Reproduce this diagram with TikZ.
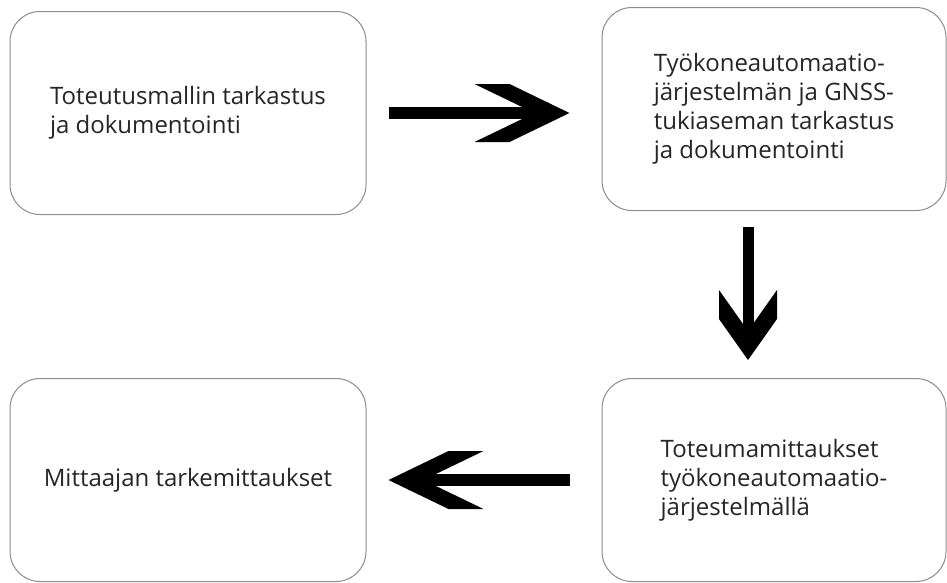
\documentclass[tikz,border=0pt]{standalone}
\usepackage{fontspec}
\setmainfont{Open Sans}
\usetikzlibrary{arrows.meta}

% thick chevron head, inset = thickness of the barbs along the shaft
\pgfdeclarearrow{
  name = Chevron,
  parameters = {\the\pgfarrowlength,\the\pgfarrowwidth,\the\pgfarrowinset},
  setup code = {
    \pgfarrowssettipend{0pt}
    \pgfarrowssetbackend{-\pgfarrowlength}
    \pgfarrowssetlineend{-.5\pgfarrowinset}
    \pgfarrowssavethe\pgfarrowlength
    \pgfarrowssavethe\pgfarrowwidth
    \pgfarrowssavethe\pgfarrowinset
  },
  drawing code = {
    \pgfpathmoveto{\pgfpoint{0pt}{0pt}}
    \pgfpathlineto{\pgfpoint{\pgfarrowinset-\pgfarrowlength}{.5\pgfarrowwidth}}
    \pgfpathlineto{\pgfpoint{-\pgfarrowlength}{.5\pgfarrowwidth}}
    \pgfpathlineto{\pgfpoint{-\pgfarrowinset}{0pt}}
    \pgfpathlineto{\pgfpoint{-\pgfarrowlength}{-.5\pgfarrowwidth}}
    \pgfpathlineto{\pgfpoint{\pgfarrowinset-\pgfarrowlength}{-.5\pgfarrowwidth}}
    \pgfpathclose
    \pgfusepathqfill
  },
  defaults = {length=95pt, width=58pt, inset=35pt}
}

\begin{document}
\begin{tikzpicture}[x=1pt, y=-1pt,
  stage/.style={draw=black!45, line width=1pt, rounded corners=30pt, fill=white,
    minimum width=356pt, minimum height=203pt, align=left, text=black!85,
    font=\fontsize{24}{29}\selectfont},
  flow/.style={line width=12pt, -{Chevron[length=95pt, width=58pt, inset=35pt]}},
  drop/.style={line width=11pt, -{Chevron[length=70pt, width=58pt, inset=29pt]}}]
  \useasboundingbox (0,0) rectangle (947,582);

  % ── Stages ──
  \node[stage] (malli) at (188,113)
    {Toteutusmallin tarkastus\\ja dokumentointi};
  \node[stage, minimum width=344pt] (kone) at (774,109)
    {Työkoneautomaatio-\\järjestelmän ja GNSS-\\tukiaseman tarkastus\\ja dokumentointi};
  \node[stage, minimum width=344pt] (toteuma) at (774,480)
    {Toteumamittaukset\\työkoneautomaatio-\\järjestelmällä};
  \node[stage] (tarke) at (188,480)
    {Mittaajan tarkemittaukset};

  % ── Flow arrows ──
  \draw[flow, shorten <=22pt, shorten >=32pt] (malli.east) -- (kone.west |- malli.east);
  \draw[drop, shorten <=16pt, shorten >=18pt]
    ([xshift=-26pt]kone.south) -- ([xshift=-26pt]toteuma.north);
  \draw[flow, shorten <=32pt, shorten >=22pt] (toteuma.west) -- (tarke.east);
\end{tikzpicture}
\end{document}
